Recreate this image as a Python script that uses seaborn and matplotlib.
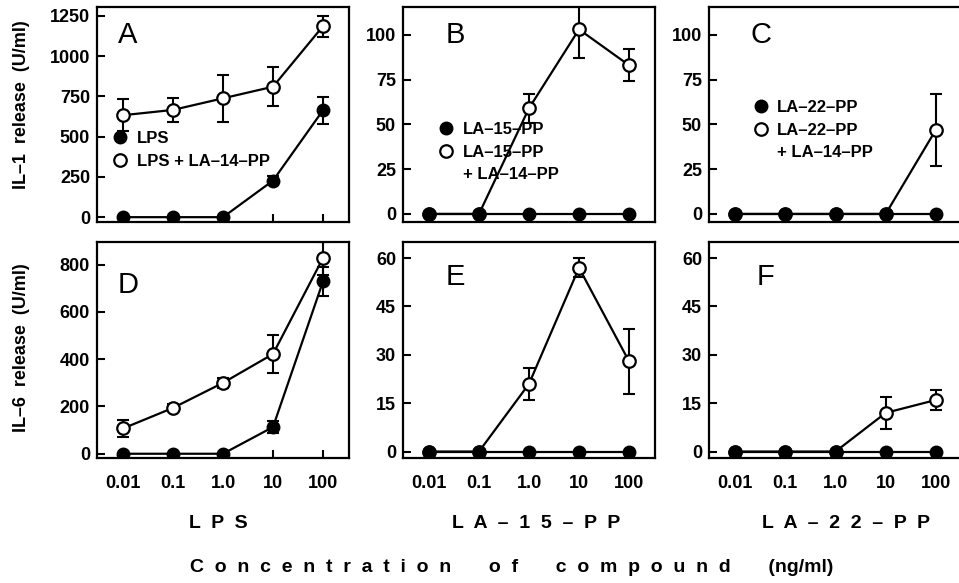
import numpy as np
import matplotlib
matplotlib.use("Agg")
import matplotlib.pyplot as plt
from matplotlib.lines import Line2D
import seaborn as sns

# concentrations (ng/ml) and tick labels
conc = [0.01, 0.1, 1.0, 10, 100]
conc_labels = ["0.01", "0.1", "1.0", "10", "100"]

# IL-1 release (U/ml)
il1_lps = [0, 0, 0, 227, 664]
il1_lps_err = [0, 0, 0, 30, 85]
il1_lps_la14 = [633, 666, 738, 810, 1186]
il1_lps_la14_err = [98, 73, 147, 120, 66]

il1_la15 = [0, 0, 0, 0, 0]
il1_la15_err = [0, 0, 0, 0, 0]
il1_la15_la14 = [0, 0, 59, 103, 83]
il1_la15_la14_err = [0, 0, 8, 16, 9]

il1_la22 = [0, 0, 0, 0, 0]
il1_la22_err = [0, 0, 0, 0, 0]
il1_la22_la14 = [0, 0, 0, 0, 47]
il1_la22_la14_err = [0, 0, 0, 0, 20]

# IL-6 release (U/ml)
il6_lps = [0, 0, 0, 113, 729]
il6_lps_err = [0, 0, 0, 25, 60]
il6_lps_la14 = [107, 194, 300, 422, 828]
il6_lps_la14_err = [35, 15, 20, 80, 70]

il6_la15 = [0, 0, 0, 0, 0]
il6_la15_err = [0, 0, 0, 0, 0]
il6_la15_la14 = [0, 0, 21, 57, 28]
il6_la15_la14_err = [0, 0, 5, 3, 10]

il6_la22 = [0, 0, 0, 0, 0]
il6_la22_err = [0, 0, 0, 0, 0]
il6_la22_la14 = [0, 0, 0, 12, 16]
il6_la22_la14_err = [0, 0, 0, 5, 3]

panel_letters = ["A", "B", "C", "D", "E", "F"]
legend_labels = [
    ["LPS", "LPS + LA–14–PP"],
    ["LA–15–PP", "LA–15–PP", "+ LA–14–PP"],
    ["LA–22–PP", "LA–22–PP", "+ LA–14–PP"],
]
compound_names = ["LPS", "LA–15–PP", "LA–22–PP"]

sns.set_style("ticks")
plt.rcParams["font.family"] = ["Liberation Sans", "DejaVu Sans"]
plt.rcParams["font.weight"] = "bold"
for key in ["text.color", "axes.edgecolor", "axes.labelcolor", "xtick.color", "ytick.color"]:
    plt.rcParams[key] = "black"
plt.rcParams["axes.linewidth"] = 1.6
plt.rcParams["xtick.direction"] = "in"
plt.rcParams["ytick.direction"] = "in"
plt.rcParams["xtick.major.size"] = 5.5
plt.rcParams["ytick.major.size"] = 5.5
plt.rcParams["xtick.major.width"] = 1.5
plt.rcParams["ytick.major.width"] = 1.5

fig = plt.figure(figsize=(9.59, 5.83), dpi=100)
W, H = 959, 583


def add_axes(left, right, top, bottom):
    return fig.add_axes([left / W, 1 - bottom / H, (right - left) / W, (bottom - top) / H])


cols = [(97, 349), (403, 655), (709, 962)]
rows = [(7, 222), (242, 458)]
axes = [[add_axes(l, r, t, b) for (l, r) in cols] for (t, b) in rows]

data = [
    [(il1_lps, il1_lps_err, il1_lps_la14, il1_lps_la14_err),
     (il1_la15, il1_la15_err, il1_la15_la14, il1_la15_la14_err),
     (il1_la22, il1_la22_err, il1_la22_la14, il1_la22_la14_err)],
    [(il6_lps, il6_lps_err, il6_lps_la14, il6_lps_la14_err),
     (il6_la15, il6_la15_err, il6_la15_la14, il6_la15_la14_err),
     (il6_la22, il6_la22_err, il6_la22_la14, il6_la22_la14_err)],
]
ylims = [[(-30, 1305), (-4.5, 115.5), (-4.5, 115.5)],
         [(-18, 896), (-2, 65), (-2, 65)]]
yticks = [[[0, 250, 500, 750, 1000, 1250], [0, 25, 50, 75, 100], [0, 25, 50, 75, 100]],
          [[0, 200, 400, 600, 800], [0, 15, 30, 45, 60], [0, 15, 30, 45, 60]]]
letter_pos = [[(0.123, 0.87), (0.209, 0.87), (0.204, 0.87)],
              [(0.123, 0.80), (0.209, 0.838), (0.224, 0.838)]]
legend_pos = [(0.058, 0.423), (0.137, 0.465), (0.171, 0.567)]

xmin, xmax = 0.01 * 10 ** -0.52, 100 * 10 ** 0.52

for r in range(2):
    for c in range(3):
        ax = axes[r][c]
        filled, filled_err, open_, open_err = data[r][c]
        ax.set_xscale("log")
        # open series first, filled on top
        sns.lineplot(x=conc, y=open_, ax=ax, color="black", linewidth=1.6,
                     marker="o", markersize=9, markerfacecolor="white",
                     markeredgecolor="black", markeredgewidth=1.6, zorder=3)
        m = np.array(open_err) > 0
        ax.errorbar(np.array(conc)[m], np.array(open_)[m], yerr=np.array(open_err)[m],
                    fmt="none", ecolor="black", elinewidth=1.5, capsize=4.5,
                    capthick=1.5, zorder=2)
        sns.lineplot(x=conc, y=filled, ax=ax, color="black", linewidth=1.6,
                     marker="o", markersize=9, markerfacecolor="black",
                     markeredgecolor="black", markeredgewidth=1.0, zorder=4)
        m = np.array(filled_err) > 0
        ax.errorbar(np.array(conc)[m], np.array(filled)[m], yerr=np.array(filled_err)[m],
                    fmt="none", ecolor="black", elinewidth=1.5, capsize=4.5,
                    capthick=1.5, zorder=2)

        ax.set_xlim(xmin, xmax)
        ax.set_ylim(*ylims[r][c])
        ax.set_xticks(conc)
        ax.minorticks_off()
        ax.set_yticks(yticks[r][c])
        ax.set_yticklabels([str(v) for v in yticks[r][c]], fontsize=13, fontweight="bold")
        if r == 1:
            ax.set_xticklabels(conc_labels, fontsize=13, fontweight="bold")
            ax.tick_params(axis="x", pad=12)
        else:
            ax.set_xticklabels([])
        ax.tick_params(axis="y", pad=5)
        ax.set_xlabel("")
        ax.set_ylabel("")
        for s in ax.spines.values():
            s.set_visible(True)

        lx, ly = letter_pos[r][c]
        ax.text(lx, ly, panel_letters[r * 3 + c], transform=ax.transAxes,
                fontsize=21, fontweight="normal", ha="center", va="center")

        if r == 0:
            handles = [
                Line2D([], [], linestyle="none", marker="o", markersize=9,
                       markerfacecolor="black", markeredgecolor="black"),
                Line2D([], [], linestyle="none", marker="o", markersize=9,
                       markerfacecolor="white", markeredgecolor="black",
                       markeredgewidth=1.6),
                Line2D([], [], linestyle="none", marker=None),
            ]
            labels = legend_labels[c]
            ax.legend(handles[:len(labels)], labels, loc="upper left",
                      bbox_to_anchor=legend_pos[c], frameon=False, borderpad=0,
                      borderaxespad=0, handlelength=1.0, handletextpad=0.5,
                      labelspacing=0.45, prop={"size": 12, "weight": "bold"})

fig.text(22 / W, 1 - 105 / H, "IL–1  release  (U/ml)", rotation=90,
         ha="center", va="center", fontsize=13, fontweight="bold")
fig.text(22 / W, 1 - 348 / H, "IL–6  release  (U/ml)", rotation=90,
         ha="center", va="center", fontsize=13, fontweight="bold")

name_x = [218, 536, 846]
for name, x in zip(compound_names, name_x):
    fig.text(x / W, 1 - 523 / H, "  ".join(name), ha="center", va="center",
             fontsize=14, fontweight="bold")

words = ["Concentration", "of", "compound"]
title = "       ".join("  ".join(w) for w in words) + "       (ng/ml)"
fig.text(512 / W, 1 - 567 / H, title, ha="center", va="center",
         fontsize=14, fontweight="bold")

fig.savefig("out.png", dpi=100)
